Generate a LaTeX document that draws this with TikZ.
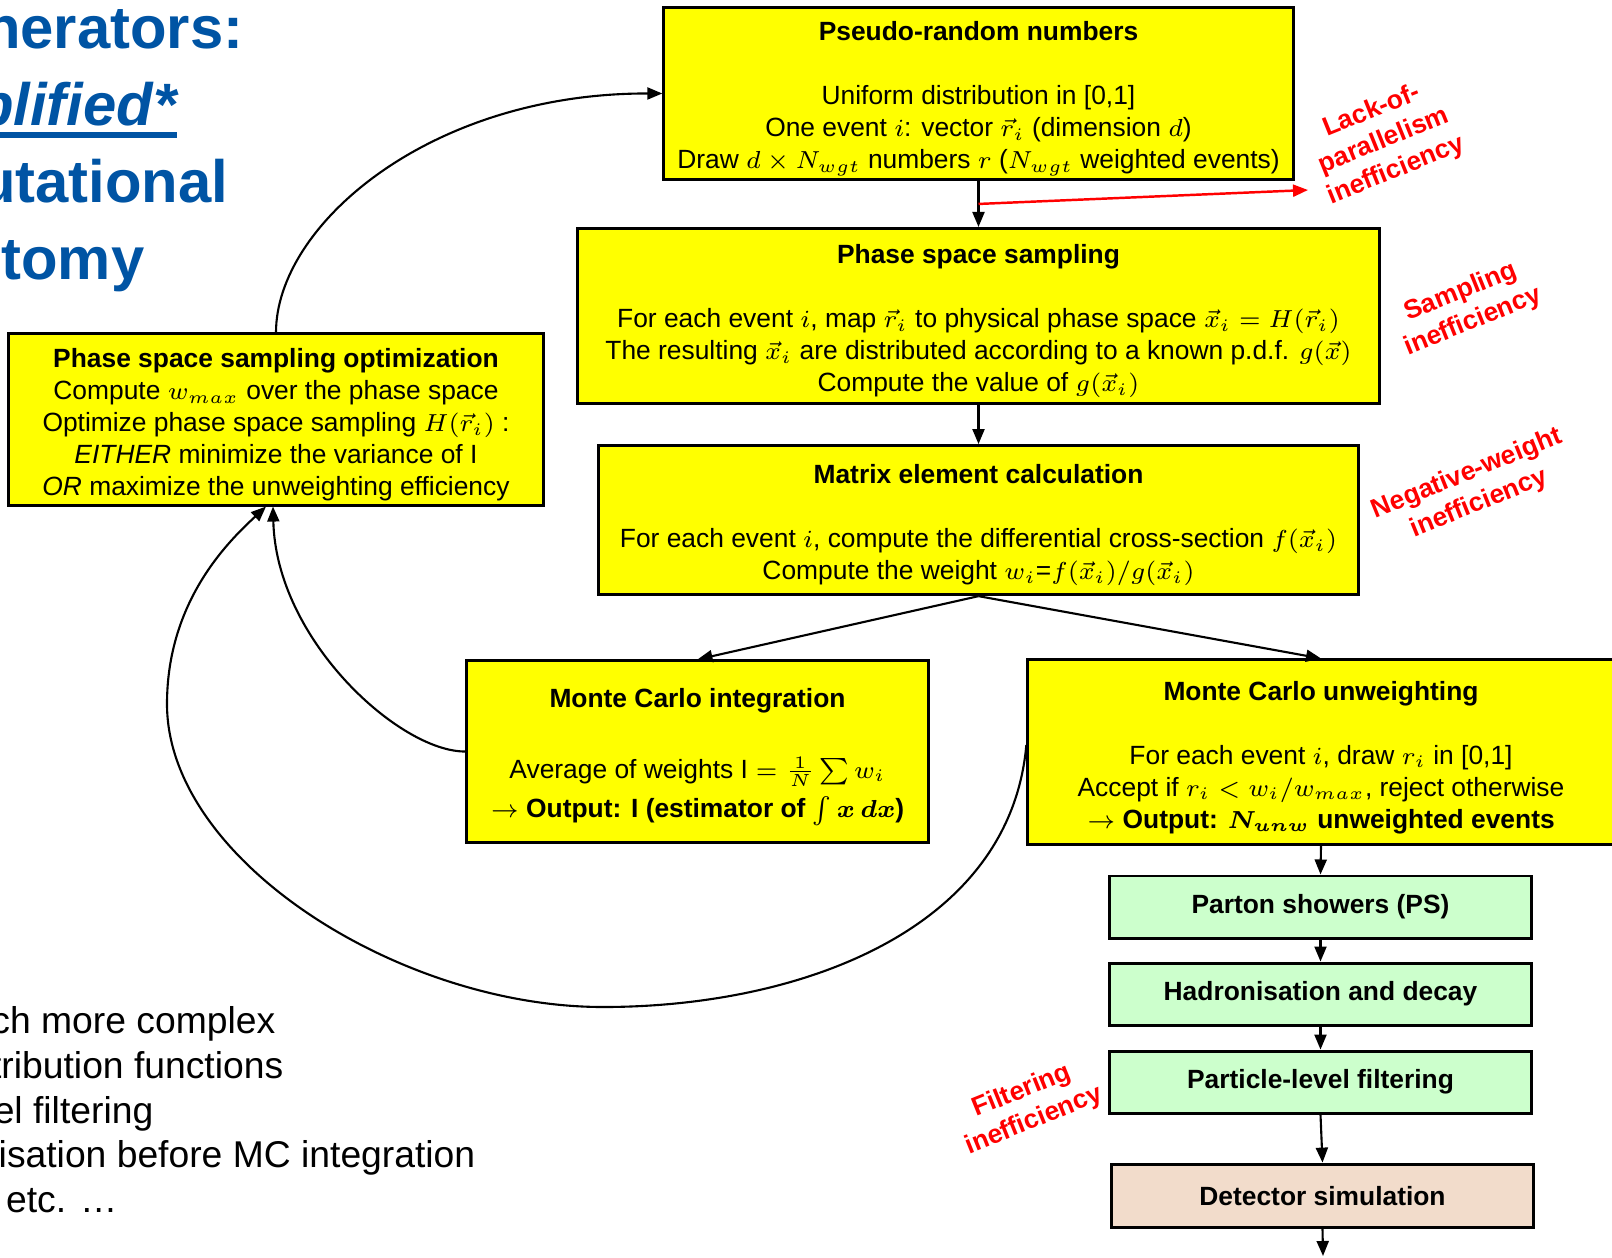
\documentclass[tikz,border=0pt]{standalone}
\usepackage{amsmath,amssymb}
\usepackage{fontspec}
\setmainfont{Liberation Sans}
\usetikzlibrary{arrows.meta, positioning, calc}

\definecolor{boxyellow}{RGB}{255,255,0}
\definecolor{psgreen}{RGB}{204,255,204}
\definecolor{detpeach}{RGB}{242,220,203}
\definecolor{titleblue}{RGB}{0,84,164}

\newcommand{\boxhead}[1]{\rule{0pt}{8.5pt}\textbf{#1}}

\begin{document}
\begin{tikzpicture}[
    x=0.01cm, y=-0.01cm,
    ybox/.style={rectangle, draw, line width=0.85pt, fill=boxyellow, align=center, inner sep=1pt, font=\fontsize{7.5}{9.1}\selectfont},
    gbox/.style={rectangle, draw, line width=0.85pt, fill=psgreen, minimum width=4.21cm, minimum height=0.62cm, font=\fontsize{7.5}{9.1}\selectfont\bfseries},
    arr/.style={-{Triangle[length=1.5mm, width=1.2mm]}, line width=0.6pt},
    redarr/.style={-{Triangle[length=1.5mm, width=1.2mm]}, line width=0.7pt, red},
    ineff/.style={text=red, font=\fontsize{7.5}{9.1}\selectfont\bfseries, align=center, rotate=22},
    ttl/.style={text=titleblue, font=\fontsize{17}{20}\selectfont\bfseries, anchor=base east, inner sep=0pt},
    note/.style={font=\fontsize{10.6}{12.7}\selectfont, anchor=base east, inner sep=0pt}
]
\useasboundingbox (0,0) rectangle (1612,1257);

% Title (cut at the left edge)
\node[ttl] (ttl1) at (244,48) {nerators:};
\node[ttl] (ttl2) at (177,125) {\itshape plified*};
\node[ttl] (ttl3) at (229,202) {utational};
\node[ttl] (ttl4) at (145,279) {tomy};
\draw[titleblue, line width=0.065cm] ([yshift=-0.1cm]ttl2.base west) -- ([yshift=-0.1cm]ttl2.base east);

% Notes (cut at the left edge)
\node[note] (note1) at (276,1033) {ch more complex};
\node[note] (note2) at (284,1078) {tribution functions};
\node[note] (note3) at (154,1123) {el filtering};
\node[note] (note4) at (476,1167) {isation before MC integration};
\node[note] (note5) at (118,1212) {etc. \dots};

% Main chain
\node[ybox, minimum width=6.29cm, minimum height=1.71cm] (prn) at (978.5,93.5) {\boxhead{Pseudo-random numbers}\\[9.1pt]
  Uniform distribution in [0,1]\\
  One event $i$: vector $\vec{r}_i$ (dimension $d$)\\
  Draw $d\times N_{wgt}$ numbers $r$ ($N_{wgt}$ weighted events)};

\node[ybox, minimum width=8.01cm, minimum height=1.75cm, below=0.46cm of prn] (pss) {\boxhead{Phase space sampling}\\[9.1pt]
  For each event $i$, map $\vec{r}_i$ to physical phase space $\vec{x}_i=H(\vec{r}_i)$\\
  The resulting $\vec{x}_i$ are distributed according to a known p.d.f. $g(\vec{x})$\\
  Compute the value of $g(\vec{x}_i)$};

\node[ybox, minimum width=7.59cm, minimum height=1.49cm, below=0.39cm of pss] (mec) {\boxhead{Matrix element calculation}\\[9.1pt]
  For each event $i$, compute the differential cross-section $f(\vec{x}_i)$\\
  Compute the weight $w_i$=$f(\vec{x}_i)/g(\vec{x}_i)$};

\node[ybox, minimum width=4.61cm, minimum height=1.81cm] (mci) at (697.5,751.5) {\boxhead{Monte Carlo integration}\\[11pt]
  Average of weights $\mathrm{I}=\frac{1}{N}\sum w_i$\\[2pt]
  $\rightarrow$ \textbf{Output: {\boldmath$\mathrm{I}$} (estimator of {\boldmath$\int x\,dx$})}};

\node[ybox, minimum width=5.86cm, minimum height=1.84cm] (mcu) at (1321,752) {\boxhead{Monte Carlo unweighting}\\[9.1pt]
  For each event $i$, draw $r_i$ in [0,1]\\
  Accept if $r_i<w_i/w_{max}$, reject otherwise\\
  $\rightarrow$ \textbf{Output: {\boldmath$N_{unw}$} unweighted events}};

\node[ybox, minimum width=5.34cm, minimum height=1.71cm] (ppo) at (276,419.5) {\boxhead{Phase space sampling optimization}\\
  Compute $w_{max}$ over the phase space\\
  Optimize phase space sampling $H(\vec{r}_i)$ :\\
  \textit{EITHER} minimize the variance of I\\
  \textit{OR} maximize the unweighting efficiency};

% Showering chain
\node[gbox] (ps) at (1320.5,907) {Parton showers (PS)};
\node[gbox, below=0.22cm of ps] (had) {Hadronisation and decay};
\node[gbox, below=0.23cm of had] (filt) {Particle-level filtering};
\node[gbox, fill=detpeach, minimum height=0.63cm, below=0.48cm of filt, xshift=0.02cm] (det) {Detector simulation};
\coordinate (detout) at (1323,1256);

% Inefficiencies
\node[ineff] (lop) at (1384,141) {Lack-of-\\parallelism\\inefficiency};
\node[ineff] (samp) at (1467,307) {Sampling\\inefficiency};
\node[ineff] (negw) at (1473,489) {Negative-weight\\inefficiency};
\node[ineff] (filtin) at (1028,1106) {Filtering\\inefficiency};

% Arrows
\draw[arr] (prn.south) -- (pss.north);
\draw[arr] (pss.south) -- (mec.north);
\draw[arr] (mec.south) -- (mci.north);
\draw[arr] (mec.south) -- (mcu.north);
\draw[arr] (mcu.south) -- (ps.north);
\draw[arr] (ps.south) -- (had.north);
\draw[arr] (had.south) -- (filt.north);
\draw[arr] (filt.south) -- (det.north);
\draw[arr] (det.south) -- (detout);

\coordinate (lopstart) at ($(prn.south)!0.5!(pss.north)$);
\coordinate (lopend) at (1308,190);
\draw[redarr] (lopstart) -- (lopend);

% Feedback loops
\draw[arr] (ppo.north) .. controls (276,225) and (430,93) .. (prn.west);
\draw[arr] (mci.west) .. controls (400,752) and (276,640) .. ([xshift=-0.03cm]ppo.south);
\draw[arr] ([yshift=0.07cm]mcu.west) .. controls (1010,930) and (800,1007) .. (603,1007)
  .. controls (400,1007) and (167,860) .. (167,704)
  .. controls (167,600) and (230,540) .. ([xshift=-0.1cm]ppo.south);

\end{tikzpicture}
\end{document}
